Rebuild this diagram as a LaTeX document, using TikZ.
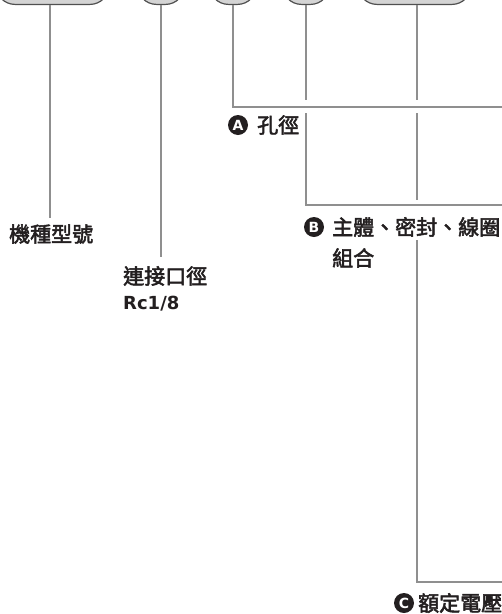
\documentclass[tikz,border=0pt]{standalone}
\usepackage{fontspec}
\newfontfamily\cjk[FakeBold=2.5]{Noto Sans CJK TC}
\newfontfamily\lat{DejaVu Sans}
\definecolor{linegray}{HTML}{8F8F8F}
\definecolor{shapefill}{HTML}{D4D4D4}
\definecolor{shapeedge}{HTML}{505050}
\definecolor{ink}{HTML}{231F20}
\begin{document}
\begin{tikzpicture}[x=1pt,y=-1pt,
  conn/.style={draw=linegray, line width=2.2pt},
  topshape/.style={draw=shapeedge, fill=shapefill, line width=1.2pt, rounded corners=19pt, minimum height=70pt, anchor=south},
  lbl/.style={anchor=west, inner sep=0pt, text=ink, font=\cjk\fontsize{21}{25}\selectfont},
  latlbl/.style={anchor=west, inner sep=0pt, text=ink, font=\lat\bfseries\fontsize{18}{20}\selectfont},
  badge/.style={circle, fill=ink, text=white, inner sep=0pt, minimum size=20pt, font=\lat\bfseries\fontsize{14}{14}\selectfont}]
\useasboundingbox (0,0) rectangle (502,614);

% top shapes
\node[topshape, minimum width=113pt] (s1) at (52.5,5) {};
\node[topshape, minimum width=47pt] (s2) at (161,5) {};
\node[topshape, minimum width=47pt] (s3) at (233,5) {};
\node[topshape, minimum width=47pt] (s4) at (306,5) {};
\node[topshape, minimum width=113pt] (s5) at (414.5,5) {};

% labels
\node[lbl] (t1) at (9,234) {機種型號};
\node[lbl] (t2) at (123,276) {連接口徑};
\node[latlbl] (t2b) at (123,304) {Rc1/8};
\node[badge] (ba) at (238,125) {A};
\node[lbl] (ta) at (257,125) {孔徑};
\node[badge] (bb) at (314,227) {B};
\node[lbl] (tb) at (332,227) {主體、密封、線圈};
\node[lbl] (tb2) at (332,258) {組合};
\node[badge] (bc) at (404,603) {C};
\node[lbl] (tc) at (418,603) {額定電壓};

% coordinates
\coordinate (e1) at (50,218);
\coordinate (e2) at (161,257);
\coordinate (c3) at (233,107);
\coordinate (r3) at (502,107);
\coordinate (g4a) at (306,100);
\coordinate (g4b) at (306,113);
\coordinate (c4) at (306,205);
\coordinate (r4) at (502,205);
\coordinate (g5a) at (417,100);
\coordinate (g5b) at (417,113);
\coordinate (g5c) at (417,200);
\coordinate (g5d) at (417,240);
\coordinate (c5) at (417,582);
\coordinate (r5) at (502,582);

% connectors
\draw[conn] (s1.south -| e1) -- (e1);
\draw[conn] (s2.south) -- (e2);
\draw[conn] (s3.south) -- (c3) -- (r3);
\draw[conn] (s4.south) -- (g4a);
\draw[conn] (g4b) -- (c4) -- (r4);
\draw[conn] (s5.south -| g5a) -- (g5a);
\draw[conn] (g5b) -- (g5c);
\draw[conn] (g5d) -- (c5) -- (r5);
\end{tikzpicture}
\end{document}
